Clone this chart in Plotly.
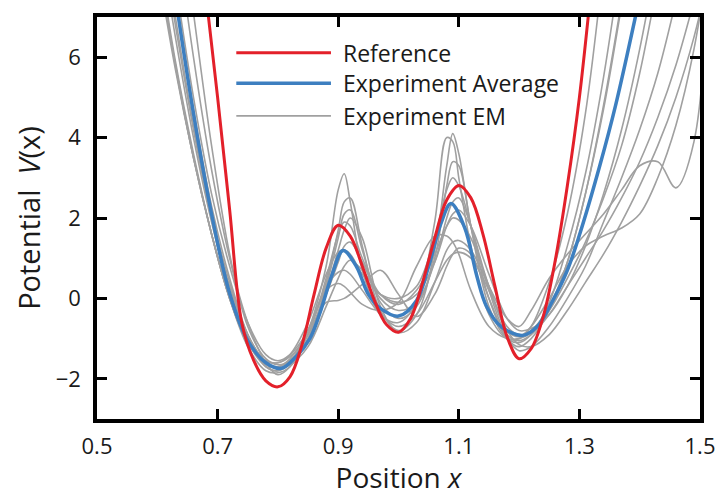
import plotly.graph_objects as go

# ---------------- data ----------------
ref_x = [0.675, 0.70, 0.72, 0.74, 0.76, 0.78, 0.80, 0.82, 0.84, 0.86, 0.88, 0.90,
         0.92, 0.94, 0.96, 0.98, 1.00, 1.02, 1.04, 1.06, 1.08, 1.10, 1.12, 1.14,
         1.16, 1.18, 1.20, 1.22, 1.24, 1.26, 1.28, 1.30, 1.32]
ref_v = [8.3, 5.0, 2.2, -0.6, -1.55, -2.05, -2.2, -1.95, -1.15, 0.1, 1.25, 1.82,
         1.55, 0.8, -0.05, -0.65, -0.84, -0.5, 0.4, 1.5, 2.45, 2.81, 2.5, 1.6,
         0.3, -0.95, -1.5, -1.25, -0.45, 0.95, 2.8, 5.0, 7.8]

avg_x = [0.625, 0.66, 0.69, 0.72, 0.75, 0.78, 0.806, 0.83, 0.853, 0.87, 0.89, 0.908,
         0.93, 0.95, 0.97, 1.00, 1.03, 1.05, 1.07, 1.087, 1.11, 1.13, 1.146, 1.17,
         1.206, 1.23, 1.256, 1.28, 1.301, 1.334, 1.36, 1.40]
avg_v = [8.0, 4.6, 2.1, 0.12, -1.05, -1.6, -1.74, -1.45, -1.0, -0.35, 0.6, 1.19,
         0.8, 0.1, -0.25, -0.44, -0.05, 0.8, 1.85, 2.36, 1.75, 0.55, -0.2, -0.7,
         -0.92, -0.7, -0.05, 0.7, 1.62, 3.31, 4.8, 7.5]

# shared x grid for the individual EM reconstructions
em_x = [0.60, 0.63, 0.66, 0.69, 0.72, 0.75, 0.78, 0.80, 0.82, 0.85, 0.88, 0.90,
        0.91, 0.92, 0.94, 0.97, 1.00, 1.03, 1.06, 1.08, 1.09, 1.10, 1.12, 1.15,
        1.18, 1.20, 1.22, 1.25, 1.28, 1.31, 1.34, 1.37, 1.40, 1.43, 1.46, 1.49, 1.52]
N = None
em_1 = [8.7, 5.9, 3.6, 1.6, 0.0, -1.1, -1.7, -1.8, -1.6, -0.8, 0.8, 2.7,
        3.1, 2.4, 0.7, -0.4, -0.6, -0.1, 1.9, 4.0, 3.9, 3.0, 1.3, -0.4,
        -1.0, -1.0, -0.7, 0.4, 2.1, 4.6, 8.3, N, N, N, N, N, N]
em_2 = [8.5, 5.8, 3.5, 1.6, 0.0, -1.1, -1.65, -1.7, -1.5, -0.8, 0.4, 1.7,
        2.4, 2.5, 1.3, -0.3, -0.8, -0.4, 1.2, 3.3, 4.1, 3.6, 1.8, -0.2,
        -1.0, -1.1, -0.9, -0.1, 1.3, 3.1, 5.5, 8.5, N, N, N, N, N]
em_3 = [8.3, 5.7, 3.5, 1.6, 0.0, -1.2, -1.8, -1.85, -1.7, -1.0, 0.3, 1.5,
        2.1, 2.2, 1.2, -0.1, -0.5, -0.2, 1.0, 2.8, 3.4, 3.3, 1.8, 0.0,
        -1.0, -1.2, -1.0, -0.3, 0.9, 2.6, 4.8, 7.4, N, N, N, N, N]
em_4 = [9.3, 6.5, 4.0, 1.9, 0.2, -0.95, -1.55, -1.6, -1.45, -0.9, 0.1, 0.9,
        1.3, 1.4, 0.9, 0.0, -0.3, -0.1, 0.9, 2.0, 2.4, 2.5, 1.8, 0.3,
        -0.7, -0.9, -0.8, -0.2, 0.9, 2.6, 4.7, 7.3, N, N, N, N, N]
em_5 = [9.6, 6.8, 4.2, 2.0, 0.3, -0.9, -1.6, -1.75, -1.65, -1.2, -0.2, 0.5,
        0.8, 0.95, 0.7, 0.1, -0.1, 0.1, 0.9, 1.8, 2.1, 2.2, 1.8, 0.6,
        -0.5, -0.8, -0.75, -0.4, 0.3, 1.3, 2.6, 4.2, 6.2, 8.6, N, N, N]
em_6 = [11.0, 7.9, 5.0, 2.6, 0.8, -0.6, -1.4, -1.55, -1.4, -0.8, 0.2, 0.37,
        0.3, 0.15, -0.15, -0.3, -0.1, 0.8, 1.55, 1.55, 1.4, 1.1, 0.2, -0.7,
        -1.0, -1.0, -0.85, -0.3, 0.5, 1.4, 2.5, 3.8, 5.6, 7.9, N, N, N]
em_7 = [13.0, 9.3, 6.0, 3.2, 1.0, -0.6, -1.6, -1.9, -1.7, -0.9, -0.1, -0.05,
        0.0, 0.1, 0.35, 0.7, 0.1, -0.45, 0.1, 0.8, 1.1, 1.25, 1.1, 0.0,
        -1.0, -1.3, -1.2, -0.7, 0.0, 0.8, 1.9, 3.0, 4.2, 5.6, 7.4, N, N]
em_8 = [14.5, 10.5, 7.1, 3.8, 1.1, -0.7, -1.5, -1.65, -1.55, -1.0, 0.2, 1.2,
        1.7, 2.0, 1.5, -0.2, -0.85, -0.6, 0.4, 1.2, 1.4, 1.44, 1.2, 0.3,
        -0.5, -0.7, -0.3, 0.5, 1.1, 1.6, 2.1, 2.7, 3.3, 3.4, 2.75, 3.9, 10.0]
em_9 = [8.5, 5.8, 3.5, 1.6, 0.0, -1.1, -1.55, -1.6, -1.4, -0.6, 0.6, 1.15,
        1.2, 1.1, 0.6, 0.1, 0.0, 0.3, 1.5, 2.7, 3.0, 2.8, 1.8, 0.2,
        -0.9, -1.05, -0.9, -0.4, 0.3, 1.0, 1.7, 2.5, 3.4, 4.5, 5.8, 7.4, N]
em_10 = [10.0, 7.0, 4.3, 2.1, 0.4, -0.9, -1.6, -1.7, -1.55, -0.9, 0.5, 1.6,
         1.9, 1.8, 1.0, 0.1, -0.15, 0.2, 1.1, 1.8, 2.0, 1.95, 1.5, 0.3,
         -0.8, -0.95, -0.7, 0.0, 0.8, 1.3, 1.55, 1.75, 2.1, 3.0, 4.3, 6.2, 9.0]
em_11 = [10.8, 7.6, 4.7, 2.3, 0.5, -0.9, -1.7, -1.8, -1.6, -0.8, 0.3, 0.65,
         0.7, 0.6, 0.2, -0.4, -0.7, -0.4, 0.4, 0.95, 1.1, 1.15, 1.0, 0.2,
         -0.8, -1.15, -1.2, -0.9, -0.3, 0.4, 1.1, 1.9, 2.8, 3.8, 5.0, 6.5, 8.4]
em_curves = [em_1, em_2, em_3, em_4, em_5, em_6, em_7, em_8, em_9, em_10, em_11]

x_ticks = [0.5, 0.7, 0.9, 1.1, 1.3, 1.5]
x_tick_text = ["0.5", "0.7", "0.9", "1.1", "1.3", "1.5"]
y_ticks = [-2, 0, 2, 4, 6]
y_tick_text = ["\u22122", "0", "2", "4", "6"]

legend_names = ["Reference", "Experiment Average", "Experiment EM"]

# ---------------- styling ----------------
RED = "#e3202a"
BLUE = "#3d7fc0"
GRAY = "#a0a0a0"
FONT = "Open Sans"
TXT = "#1a1a1a"

fig = go.Figure()
for ys in em_curves:
    fig.add_trace(go.Scatter(x=em_x, y=ys, mode="lines",
                             line=dict(color=GRAY, width=1.6, shape="spline"),
                             showlegend=False, hoverinfo="skip"))
fig.add_trace(go.Scatter(x=avg_x, y=avg_v, mode="lines",
                         line=dict(color=BLUE, width=3.5, shape="spline"),
                         showlegend=False))
fig.add_trace(go.Scatter(x=ref_x, y=ref_v, mode="lines",
                         line=dict(color=RED, width=3, shape="spline"),
                         showlegend=False))

axis_common = dict(showgrid=False, zeroline=False, showline=True, linecolor="black",
                   linewidth=3.5, mirror="ticks", ticks="inside", ticklen=10,
                   tickwidth=3, tickcolor="black", automargin=False,
                   tickfont=dict(family=FONT, size=22, color=TXT))

fig.update_layout(
    width=722, height=496,
    margin=dict(l=97, r=22, t=17, b=77),
    paper_bgcolor="white", plot_bgcolor="white",
    font=dict(family=FONT, color=TXT),
    xaxis=dict(range=[0.5, 1.5], tickvals=x_ticks, ticktext=x_tick_text,
               ticklabelstandoff=5,
               title=dict(text="Position <i>x</i>", font=dict(size=28), standoff=13),
               **axis_common),
    yaxis=dict(range=[-3, 7], tickvals=y_ticks, ticktext=y_tick_text,
               ticklabelstandoff=8,
               title=dict(text="Potential\u00a0\u00a0<i>V</i>(x)", font=dict(size=29),
                          standoff=8),
               **axis_common),
    showlegend=False,
)

# legend drawn as long line samples with text, like the reference
legend_colors = [RED, BLUE, GRAY]
legend_widths = [3, 3.5, 1.6]
legend_y = [0.911, 0.835, 0.754]
for name, col, w, yy in zip(legend_names, legend_colors, legend_widths, legend_y):
    fig.add_shape(type="line", xref="paper", yref="paper", x0=0.231, x1=0.388,
                  y0=yy, y1=yy, line=dict(color=col, width=w))
    fig.add_annotation(xref="paper", yref="paper", x=0.405, y=yy, text=name,
                       showarrow=False, xanchor="left", yanchor="middle",
                       font=dict(family=FONT, size=23, color=TXT))

fig.write_html("out.html")
